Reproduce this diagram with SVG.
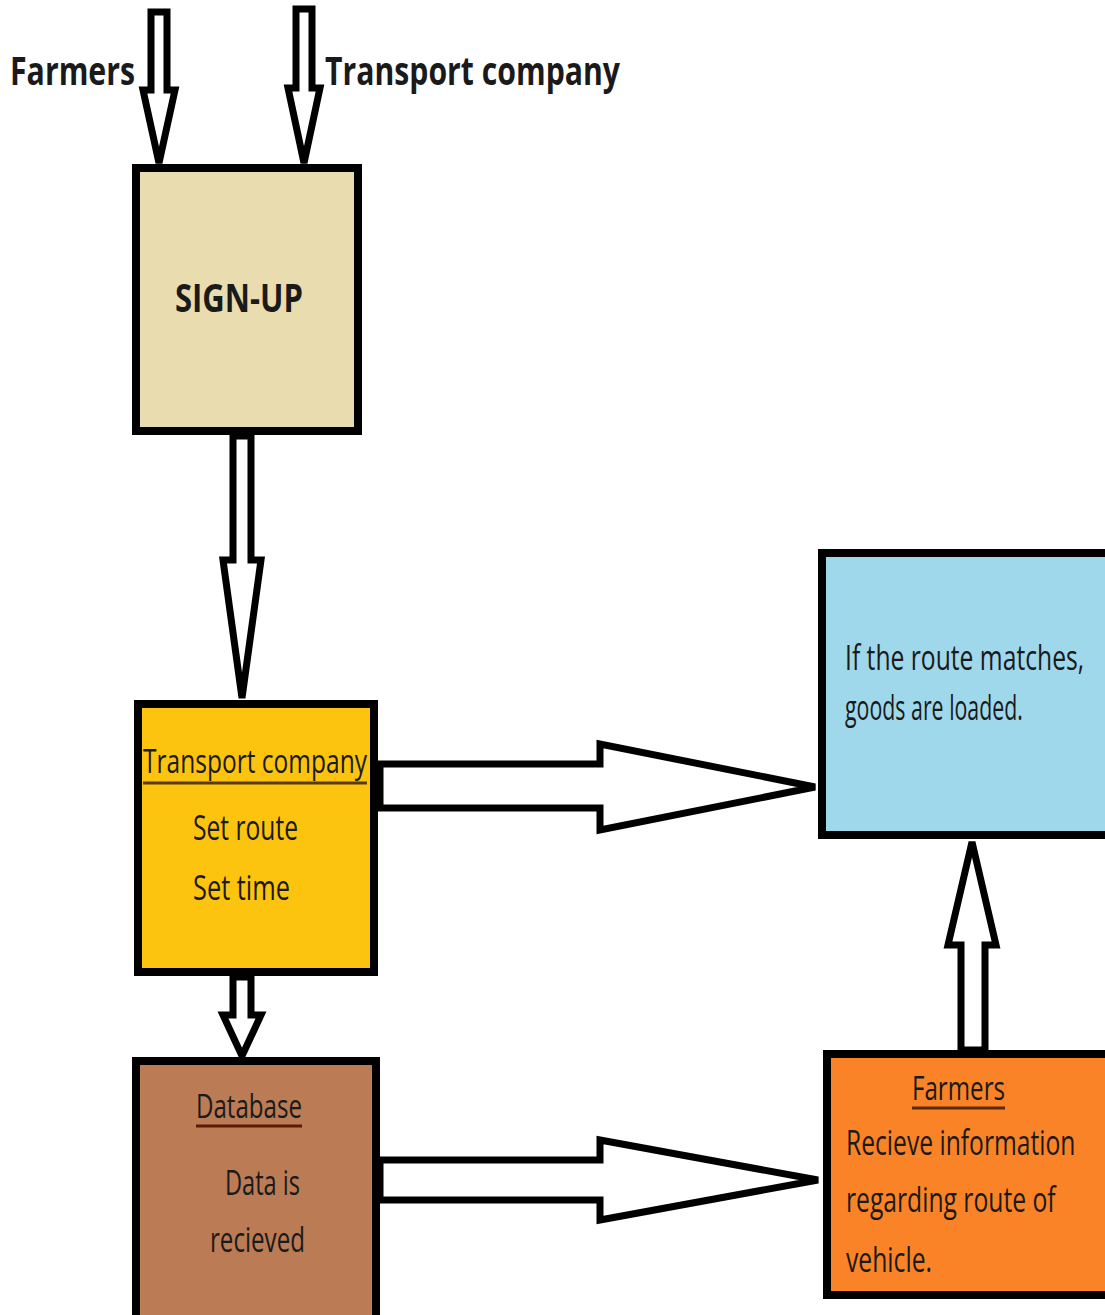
<svg xmlns="http://www.w3.org/2000/svg" width="1105" height="1315" viewBox="0 0 1105 1315">
<style>
.box{stroke:#000;stroke-width:8}
.edge{fill:none;stroke:#000;stroke-width:8}
.arr{fill:#fff;stroke:#000;stroke-width:7;stroke-linejoin:miter}
.t{font-family:"Open Sans","Liberation Sans",sans-serif;fill:#1a1a1a}
.b{font-weight:bold}
.ul{stroke-width:3}
</style>
<rect width="1105" height="1315" fill="#fff"/>
<g id="connectors">
<polygon class="arr" points="151,12 167,12 167,90 175,90 159,163 143,90 151,90"/>
<polygon class="arr" points="296,9 312,9 312,88 320,88 304,163 288,88 296,88"/>
<polygon class="arr" points="233,436 251,436 251,560 261,560 242,698 223,560 233,560"/>
<polygon class="arr" points="233,977 251,977 251,1015 261,1015 242,1056 223,1015 233,1015"/>
<polygon class="arr" points="380,764 600,764 600,744 815,787 600,830 600,808 380,808"/>
<polygon class="arr" points="380,1160 600,1160 600,1140 818,1180 600,1220 600,1200 380,1200"/>
<polygon class="arr" points="961,1050 961,945 948,945 972,842 996,945 985,945 985,1050"/>
</g>
<g id="signup">
<rect class="box" x="136" y="168" width="222" height="263" fill="#e9dcae"/>
<text class="t b" x="239" y="312" font-size="40" text-anchor="middle" textLength="128" lengthAdjust="spacingAndGlyphs">SIGN-UP</text>
</g>
<g id="label-farmers">
<text class="t b" x="10" y="85" font-size="40" textLength="125" lengthAdjust="spacingAndGlyphs">Farmers</text>
</g>
<g id="label-transport">
<text class="t b" x="325" y="85" font-size="40" textLength="295" lengthAdjust="spacingAndGlyphs">Transport company</text>
</g>
<g id="transport">
<rect class="box" x="138" y="704" width="236" height="268" fill="#fcc40f"/>
<text class="t" x="143" y="773" font-size="32" textLength="224" lengthAdjust="spacingAndGlyphs">Transport company</text>
<line class="ul" x1="143" y1="783" x2="367" y2="783" stroke="#5a3a10"/>
<text class="t" x="193" y="840" font-size="34" textLength="105" lengthAdjust="spacingAndGlyphs">Set route</text>
<text class="t" x="193" y="900" font-size="34" textLength="97" lengthAdjust="spacingAndGlyphs">Set time</text>
</g>
<g id="loaded">
<rect x="822" y="553" width="283" height="282" fill="#9fd8eb"/>
<path class="edge" d="M1105,553 H822 V835 H1105"/>
<text class="t" transform="translate(845,670) scale(0.726,1)" font-size="34">If the route matches,</text>
<text class="t" transform="translate(845,720) scale(0.628,1)" font-size="34">goods are loaded.</text>
</g>
<g id="database">
<rect x="136" y="1061" width="240" height="254" fill="#ba7b55"/>
<path class="edge" d="M136,1315 V1061 H376 V1315"/>
<text class="t" x="196" y="1118" font-size="32" textLength="106" lengthAdjust="spacingAndGlyphs">Database</text>
<line class="ul" x1="196" y1="1126" x2="302" y2="1126" stroke="#5a1a08"/>
<text class="t" x="225" y="1195" font-size="34" textLength="75" lengthAdjust="spacingAndGlyphs">Data is</text>
<text class="t" x="210" y="1252" font-size="34" textLength="95" lengthAdjust="spacingAndGlyphs">recieved</text>
</g>
<g id="farmers">
<rect x="827" y="1054" width="278" height="241" fill="#fb8327"/>
<path class="edge" d="M1105,1054 H827 V1295 H1105"/>
<text class="t" x="912" y="1100" font-size="32" textLength="93" lengthAdjust="spacingAndGlyphs">Farmers</text>
<line class="ul" x1="912" y1="1108" x2="1005" y2="1108" stroke="#5a2a08"/>
<text class="t" transform="translate(846,1155) scale(0.725,1)" font-size="34">Recieve information</text>
<text class="t" transform="translate(846,1212) scale(0.726,1)" font-size="34">regarding route of</text>
<text class="t" x="846" y="1272" font-size="34" textLength="86" lengthAdjust="spacingAndGlyphs">vehicle.</text>
</g>
</svg>
